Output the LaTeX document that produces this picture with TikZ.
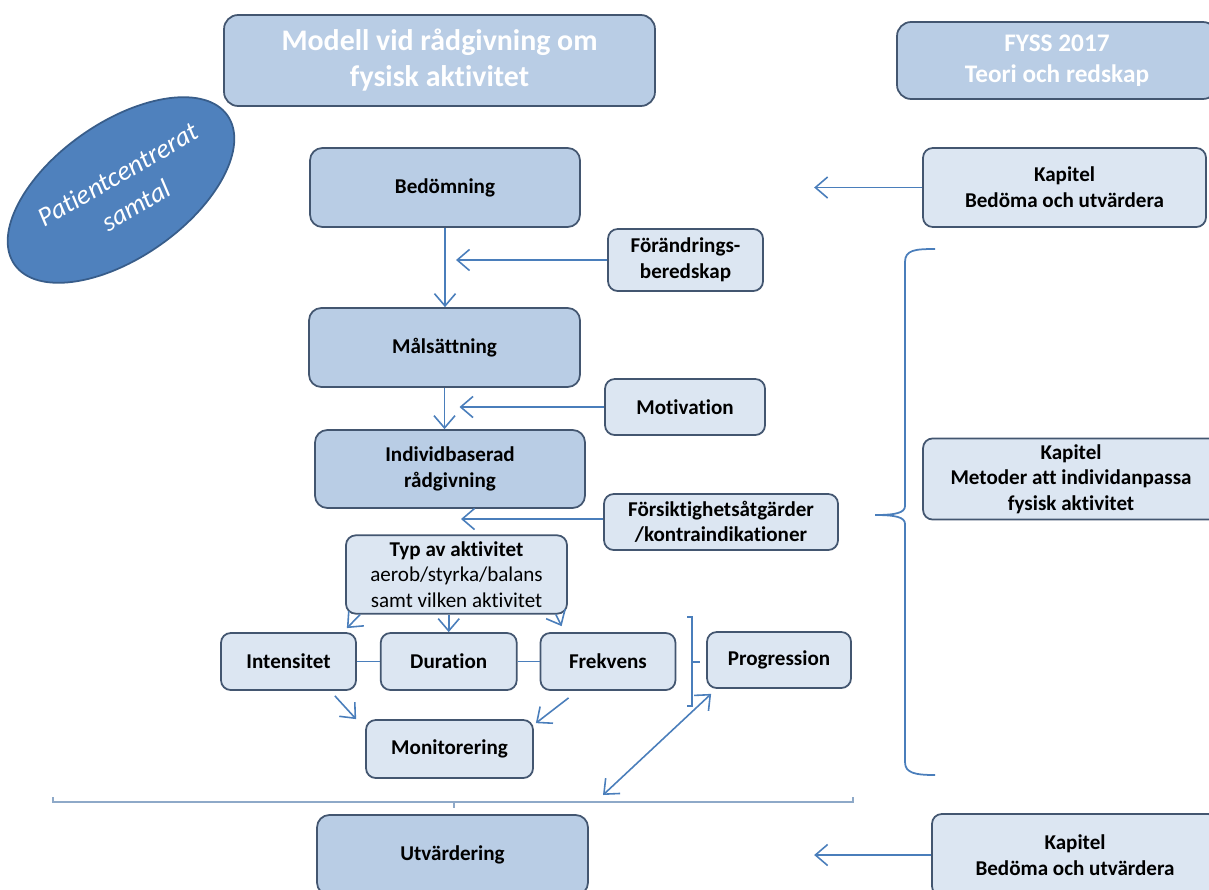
\documentclass[tikz,border=0pt]{standalone}
\usepackage{fontspec}
\setmainfont{Carlito}[Ligatures=NoCommon]
\usepackage{xcolor}
\usepackage{tikz}
\usetikzlibrary{shapes.geometric,arrows.meta,positioning,calc}

\definecolor{boxline}{HTML}{435670}
\definecolor{mainblue}{HTML}{B9CDE5}
\definecolor{lightblue}{HTML}{DCE6F2}
\definecolor{ovalblue}{HTML}{4F81BD}
\definecolor{ovalline}{HTML}{385D8A}
\definecolor{linkblue}{HTML}{4A7EBB}
\definecolor{braceblue}{HTML}{8EA9C8}

\tikzset{barb/.tip={Straight Barb[length=7pt,width=12pt,line width=0.9pt]}}

\begin{document}
\begin{tikzpicture}[
    x=0.02cm, y=-0.02cm,
    titlebox/.style={rectangle, draw=boxline, fill=mainblue, line width=1pt, rounded corners=8pt, align=center, text=white, font=\bfseries\fontsize{17}{20.5}\selectfont},
    mainbox/.style={rectangle, draw=boxline, fill=mainblue, line width=1pt, rounded corners=7pt, align=center, font=\bfseries\fontsize{12}{14.6}\selectfont},
    smallbox/.style={rectangle, draw=boxline, fill=lightblue, line width=1pt, rounded corners=5.5pt, align=center, font=\bfseries\fontsize{12}{14.6}\selectfont},
    arrow/.style={-barb, draw=linkblue, line width=0.9pt},
    link/.style={draw=linkblue, line width=0.9pt}
]
\useasboundingbox (0,0) rectangle (1209,889);

% Headings
\node[titlebox, minimum width=8.62cm, minimum height=1.82cm] (modell) at (439.5,60.5) {Modell vid rådgivning om\\fysisk aktivitet};
\node[titlebox, minimum width=6.4cm, minimum height=1.54cm, font=\bfseries\fontsize{14.4}{17.5}\selectfont] (fyss) at (1057,60.5) {FYSS 2017\\Teori och redskap};

% Patientcentrerat samtal
\node[ellipse, draw=ovalline, fill=ovalblue, line width=1pt, minimum width=5.2cm, minimum height=2.7cm, rotate=35] (samtal) at (121,190) {};
\node[rotate=30, align=center, text=white, font=\itshape\fontsize{15.5}{20.4}\selectfont] (samtaltext) at (127,190) {Patientcentrerat\\samtal};

% Main chain
\node[mainbox, minimum width=5.4cm, minimum height=1.58cm] (bedom) at (445,187.5) {Bedömning};
\node[mainbox, minimum width=5.42cm, minimum height=1.58cm] (malsat) at (444.5,347.5) {Målsättning};
\node[mainbox, minimum width=5.4cm, minimum height=1.56cm] (indiv) at (450,469) {Individbaserad\\rådgivning};
\node[mainbox, minimum width=5.42cm, minimum height=1.6cm] (utvard) at (452.5,855) {Utvärdering};

% Side factors
\node[smallbox, minimum width=3.1cm, minimum height=1.24cm] (forand) at (685.5,260) {Förändrings-\\beredskap};
\node[smallbox, minimum width=3.2cm, minimum height=1.12cm] (motiv) at (685,407) {Motivation};
\node[smallbox, minimum width=4.68cm, minimum height=1.12cm] (forsikt) at (721,522) {Försiktighetsåtgärder\\/kontraindikationer};

% Activity
\node[smallbox, minimum width=4.42cm, minimum height=1.5cm, font=\fontsize{12}{14.7}\selectfont] (typ) at (456.5,574.5) {\textbf{Typ av aktivitet}\\aerob/styrka/balans\\samt vilken aktivitet};
\node[smallbox, minimum width=2.7cm, minimum height=1.14cm] (intens) at (288.5,661.5) {Intensitet};
\node[smallbox, minimum width=2.72cm, minimum height=1.14cm, right=0.46cm of intens] (durat) {Duration};
\node[smallbox, minimum width=2.7cm, minimum height=1.14cm, right=0.44cm of durat] (frekv) {Frekvens};
\node[smallbox, minimum width=2.88cm, minimum height=1.12cm] (progr) at (779,660) {Progression};
\node[smallbox, minimum width=3.34cm, minimum height=1.16cm] (monit) at (449.5,749) {Monitorering};

% FYSS chapters
\node[smallbox, minimum width=5.66cm, minimum height=1.58cm] (kap1) at (1064.5,187.5) {Kapitel\\Bedöma och utvärdera};
\node[smallbox, minimum width=5.92cm, minimum height=1.56cm] (kap2) at (1071,479) {Kapitel\\Metoder att individanpassa\\fysisk aktivitet};
\node[smallbox, minimum width=5.72cm, minimum height=1.64cm] (kap3) at (1075,855) {Kapitel\\Bedöma och utvärdera};

% Arrows
\draw[arrow] (bedom) -- (bedom.south |- malsat.north);
\draw[arrow] (malsat.south) -- (malsat.south |- indiv.north);
\draw[arrow] (forand.west) -- ($(bedom.south |- forand.west)+(11,0)$);
\draw[arrow] (motiv.west) -- ($(malsat.south |- motiv.west)+(15,0)$);
\draw[arrow] ($(forsikt.west)+(0,-3)$) -- ($(indiv.south |- forsikt.west)+(11,-3)$);
\draw[arrow] (kap1.west) -- ++(-108,0);
\draw[arrow] (kap3.west) -- ++(-117,0);

\draw[arrow] ($(typ.south west)+(15,0)$) -- ($(intens.north east)+(-10,-4)$);
\draw[arrow] (durat.north |- typ.south) -- (durat.north);
\draw[arrow] ($(typ.south east)+(-12,0)$) -- ($(frekv.north west)+(22,-6)$);
\draw[link] (intens) -- (durat);
\draw[link] (durat) -- (frekv);
\draw[arrow] ($(intens.south east)+(-22,5)$) -- ($(monit.north west)+(-9,0)$);
\draw[arrow] ($(frekv.south west)+(29,7)$) -- ($(monit.north east)+(2,4)$);

% Brackets
\coordinate (hb) at (603,795);
\draw[link] (687,617) -- (692,617) -- (692,706) -- (687,706);
\draw[link] (692,662) -- (700,662);
\draw[draw=braceblue, line width=1pt] (53,797) -- (53,802) -- (853,802) -- (853,797);
\draw[draw=braceblue, line width=1pt] (454,802) -- (454,808);
\draw[arrow, barb-barb] ($(progr.south west)+(5,5)$) -- (hb);

\draw[link, line width=1pt] (935,249) .. controls (915,249) and (905,250) .. (905,262) -- (905,506)
    .. controls (905,513) and (895,515) .. (875,515);
\draw[link, line width=1pt] (875,515) .. controls (895,515) and (905,517) .. (905,524) -- (905,762)
    .. controls (905,773) and (915,775) .. (935,775);

\end{tikzpicture}
\end{document}
